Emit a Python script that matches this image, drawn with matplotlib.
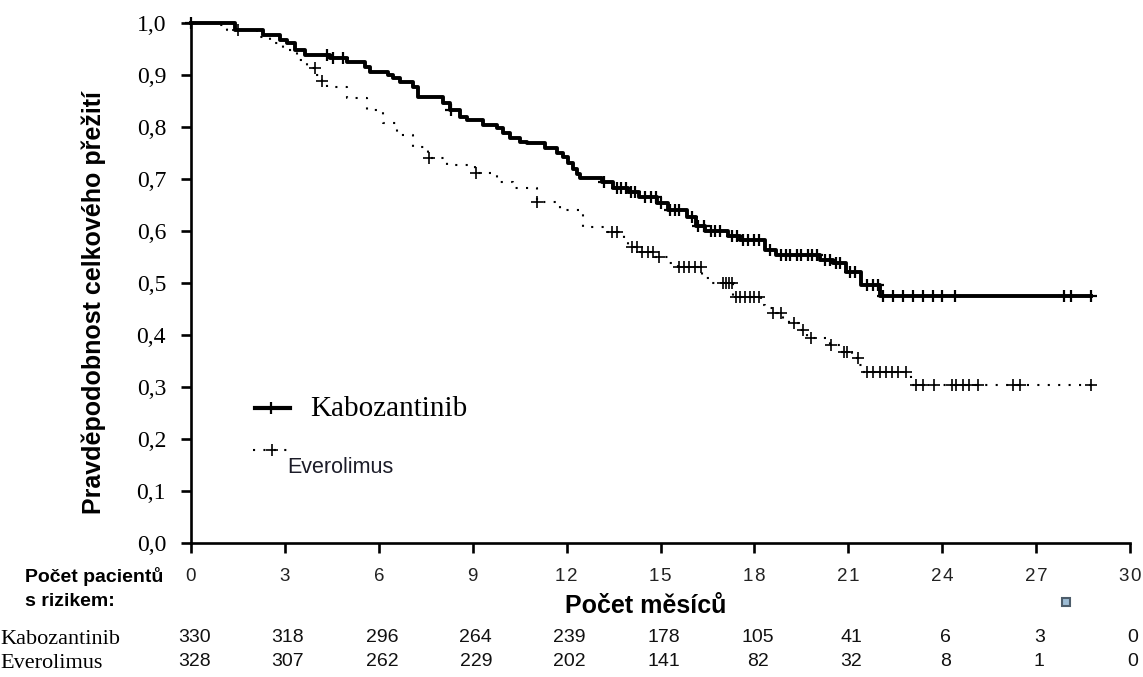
import matplotlib.pyplot as plt
import matplotlib.transforms as mtransforms
from matplotlib.patches import Rectangle
import numpy as np

# Kaplan-Meier steps: event time (months) and survival after that event
kabo_t = [0, 1.41, 2.30, 2.84, 3.07, 3.32, 3.64, 4.45, 4.98, 5.56, 5.72, 6.29, 6.45, 6.68,
          7.09, 7.25, 8.05, 8.27, 8.59, 8.82, 9.33, 9.78, 9.97, 10.19, 10.51, 10.73,
          11.31, 11.69, 11.88, 12.04, 12.2, 12.33, 12.43, 13.13, 13.48, 13.95, 14.31,
          14.89, 15.24, 15.85, 16.13, 16.42, 17.16, 17.54, 18.34, 18.69, 20.1, 20.5,
          20.93, 21.41, 22.01]
kabo_s = [1.0, 0.986, 0.977, 0.967, 0.962, 0.948, 0.938, 0.932, 0.925, 0.915, 0.906, 0.9,
          0.894, 0.887, 0.877, 0.858, 0.846, 0.833, 0.819, 0.813, 0.804, 0.798, 0.788,
          0.779, 0.771, 0.769, 0.76, 0.75, 0.742, 0.73, 0.72, 0.71, 0.702, 0.694, 0.683,
          0.675, 0.665, 0.653, 0.64, 0.627, 0.61, 0.6, 0.59, 0.583, 0.563, 0.554, 0.545,
          0.538, 0.521, 0.496, 0.475]
kabo_cens = [0, 4.35, 4.55, 4.85, 8.3, 13.2, 13.6, 13.75, 13.9, 14.05, 14.2, 14.5, 14.7,
             14.85, 15.0, 15.3, 15.45, 15.6, 16.0, 16.2, 16.4, 16.6, 16.75, 16.9, 17.3,
             17.45, 17.65, 17.8, 18.0, 18.15, 18.5, 18.85, 19.0, 19.15, 19.35, 19.5, 19.7,
             19.85, 20.0, 20.25, 20.4, 20.6, 20.75, 21.05, 21.2, 21.6, 21.8, 21.95, 22.1,
             22.43, 22.75, 23.07, 23.4, 23.7, 24.0, 24.4, 27.9, 28.1, 28.75]

ever_t = [0, 0.7, 1.15, 2.1, 2.52, 2.94, 3.39, 3.71, 3.96, 4.19, 4.35, 4.98, 5.62, 6.13,
          6.58, 7.09, 7.57, 8.18, 9.07, 9.78, 10.29, 11.05, 11.79, 12.52, 13.23, 13.83,
          13.96, 14.35, 14.82, 15.24, 15.56, 16.33, 16.55, 17.32, 18.21, 18.34, 18.56,
          18.91, 19.1, 19.46, 19.68, 20.29, 20.42, 20.73, 21.12, 21.34, 21.44, 23.0]
ever_s = [1.0, 0.997, 0.987, 0.973, 0.962, 0.948, 0.929, 0.913, 0.9, 0.888, 0.877, 0.856,
          0.833, 0.808, 0.785, 0.762, 0.74, 0.727, 0.711, 0.694, 0.683, 0.656, 0.64, 0.608,
          0.598, 0.583, 0.57, 0.56, 0.55, 0.538, 0.53, 0.51, 0.5, 0.473, 0.458, 0.452,
          0.442, 0.429, 0.423, 0.41, 0.394, 0.387, 0.381, 0.367, 0.356, 0.342, 0.329, 0.304]
ever_cens = [1.5, 3.95, 4.2, 7.6, 9.1, 11.05, 13.45, 13.6, 14.1, 14.25, 14.4, 14.6, 14.75,
             14.95, 15.6, 15.75, 15.9, 16.1, 16.3, 17.0, 17.1, 17.2, 17.28, 17.4, 17.55,
             17.7, 17.85, 18.0, 18.15, 18.6, 18.85, 19.25, 19.55, 19.8, 20.45, 20.85,
             20.95, 21.3, 21.6, 21.8, 22.0, 22.2, 22.4, 22.6, 22.85, 23.15, 23.4, 23.75,
             24.3, 24.45, 24.65, 24.85, 25.15, 26.25, 26.5, 28.75]

months = [0, 3, 6, 9, 12, 15, 18, 21, 24, 27, 30]
risk_kabo = [330, 318, 296, 264, 239, 178, 105, 41, 6, 3, 0]
risk_ever = [328, 307, 262, 229, 202, 141, 82, 32, 8, 1, 0]
yticks = [0.0, 0.1, 0.2, 0.3, 0.4, 0.5, 0.6, 0.7, 0.8, 0.9, 1.0]
ylabels = ["0,0", "0,1", "0,2", "0,3", "0,4", "0,5", "0,6", "0,7", "0,8", "0,9", "1,0"]

SERIF = ["Liberation Serif", "DejaVu Serif"]
SANS = ["Liberation Sans", "DejaVu Sans"]


def km_curve(t, s, cens):
    t = np.asarray(t, float)
    s = np.asarray(s, float)
    end = max(cens[-1], t[-1])
    tx = np.append(t, end)
    sx = np.append(s, s[-1])
    c = np.asarray(cens, float)
    cy = s[np.searchsorted(t, c, side="right") - 1]
    return tx, sx, c, cy


fig = plt.figure(figsize=(11.43, 6.77), dpi=100)
ax = fig.add_axes([191 / 1143, 1 - 543 / 677, 939 / 1143, 520 / 677])

tx, sx, cx, cy = km_curve(ever_t, ever_s, ever_cens)
ax.step(tx, sx, where="post", color="black", lw=1.5, ls=(0, (1, 4)), clip_on=False)
ax.plot(cx, cy, ls="none", marker="+", ms=9, mew=1.2, color="black", clip_on=False)

tx, sx, cx, cy = km_curve(kabo_t, kabo_s, kabo_cens)
ax.step(tx, sx, where="post", color="black", lw=2.8, clip_on=False)
ax.plot(cx, cy, ls="none", marker="+", ms=9, mew=1.6, color="black", clip_on=False)

ax.set_xlim(0, 30)
ax.set_ylim(0, 1.0)
for side in ["top", "right"]:
    ax.spines[side].set_visible(False)
for side in ["left", "bottom"]:
    ax.spines[side].set_linewidth(1.9)

ax.set_yticks(yticks)
ax.set_yticklabels(ylabels, fontsize=17, family=SERIF)
ax.set_xticks(months)
ax.set_xticklabels(["\u200a".join(str(m)) for m in months], fontsize=13.5,
                   family=SANS, color="#222222")
ax.tick_params(axis="y", length=7, width=1.9, pad=11)
ax.tick_params(axis="x", length=7, width=1.9, pad=11)

fig.text(94 / 1143, 1 - 302 / 677, "Pravděpodobnost celkového přežití", rotation=90,
         ha="center", va="center", fontsize=18, fontweight="bold", family=SANS)
fig.text(646 / 1143, 1 - 606 / 677, "Počet měsíců", ha="center", va="center",
         fontsize=18, fontweight="bold", family=SANS)
fig.text(25 / 1143, 1 - 577 / 677, "Počet pacientů", ha="left", va="center",
         fontsize=14, fontweight="bold", family=SANS)
fig.text(25 / 1143, 1 - 602 / 677, "s rizikem:", ha="left", va="center",
         fontsize=14, fontweight="bold", family=SANS)

# numbers at risk under each x tick
row = mtransforms.blended_transform_factory(ax.transData, fig.transFigure)
for name, counts, ypix in [("Kabozantinib", risk_kabo, 639), ("Everolimus", risk_ever, 663)]:
    fig.text(0.0, 1 - ypix / 677, name, ha="left", va="center", fontsize=16, family=SERIF)
    for m, n in zip(months, counts):
        ax.text(m + 0.1, 1 - (ypix - 2) / 677, str(n), transform=row, ha="center",
                va="center", fontsize=14, family=SANS, color="#111111")

# legend drawn by hand in axes fractions
ax.plot([0.068, 0.105], [0.26, 0.26], color="black", lw=3, transform=ax.transAxes)
ax.plot([0.085], [0.26], marker="+", ms=9, mew=1.6, color="black", transform=ax.transAxes)
ax.text(0.127, 0.258, "Kabozantinib", transform=ax.transAxes, ha="left", va="center",
        fontsize=21, family=SERIF)
ax.plot([0.066, 0.108], [0.179, 0.179], color="black", lw=1.5, ls=(0, (1, 4)),
        transform=ax.transAxes)
ax.plot([0.086], [0.179], marker="+", ms=9, mew=1.2, color="black", transform=ax.transAxes)
ax.text(0.103, 0.146, "Everolimus", transform=ax.transAxes, ha="left", va="center",
        fontsize=15.5, family=SANS, color="#1c1c28")

fig.add_artist(Rectangle((1062 / 1143, 1 - 606 / 677), 8 / 1143, 8 / 677,
                         transform=fig.transFigure, facecolor="#9dbcd4",
                         edgecolor="#4d5d6b", lw=1.5))

fig.savefig("out.png", dpi=100)
